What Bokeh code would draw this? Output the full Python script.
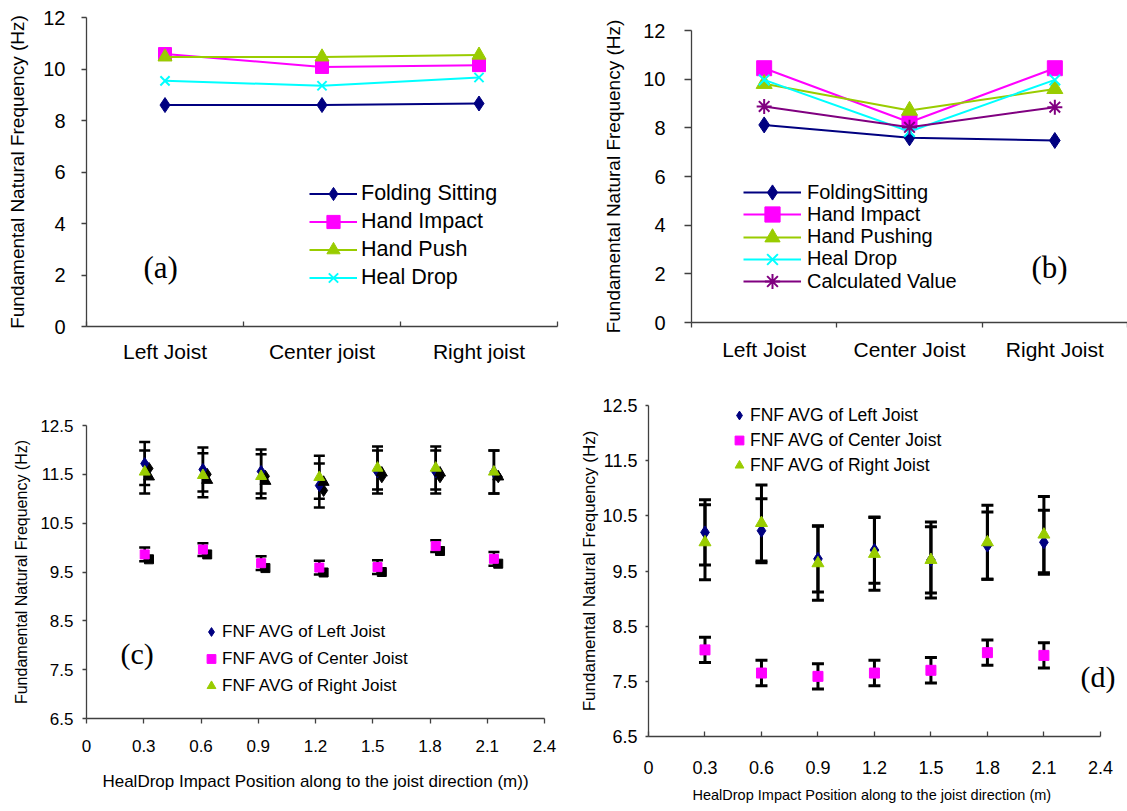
from bokeh.plotting import figure
from bokeh.models import (Range1d, FixedTicker, Label, Whisker, TeeHead, ColumnDataSource,
                          Legend, LegendItem, Title)
from bokeh.layouts import column, row
from bokeh.embed import file_html
from bokeh.resources import INLINE

SANS = "Liberation Sans"
SERIF = "Liberation Serif"

NAVY = "#000080"
MAGENTA = "#FF00FF"
YGREEN = "#99CC00"
CYAN = "#00FFFF"
PURPLE = "#800080"
AXIS = "#404040"

# ---------------- data ----------------
# (a)
cats_a = ["Left Joist", "Center joist", "Right joist"]
a_folding_sitting = [8.60, 8.60, 8.66]
a_hand_impact = [10.58, 10.08, 10.15]
a_hand_push = [10.47, 10.47, 10.54]
a_heal_drop = [9.54, 9.35, 9.67]

# (b)
cats_b = ["Left Joist", "Center Joist", "Right Joist"]
b_folding_sitting = [8.12, 7.59, 7.48]
b_hand_impact = [10.45, 8.23, 10.45]
b_hand_pushing = [9.81, 8.71, 9.60]
b_heal_drop = [9.97, 7.85, 9.97]
b_calculated = [8.88, 8.02, 8.85]

yticks_ab = [0, 2, 4, 6, 8, 10, 12]

# (c)
pos_c = [0.305, 0.61, 0.915, 1.22, 1.525, 1.83, 2.135]
c_left = [11.72, 11.60, 11.56, 11.27, 11.55, 11.55, 11.55]
c_left_err = [0.44, 0.45, 0.45, 0.45, 0.44, 0.44, 0.44]
c_center = [9.86, 9.96, 9.68, 9.59, 9.60, 10.03, 9.77]
c_center_err = [0.14, 0.13, 0.14, 0.14, 0.14, 0.12, 0.14]
c_right = [11.55, 11.48, 11.46, 11.44, 11.63, 11.63, 11.55]
c_right_err = [0.44, 0.45, 0.45, 0.44, 0.44, 0.44, 0.44]

# (d)
pos_d = [0.3, 0.6, 0.9, 1.2, 1.5, 1.8, 2.1]
d_left = [10.20, 10.23, 9.72, 9.88, 9.70, 9.96, 10.02]
d_left_err = [0.59, 0.58, 0.60, 0.60, 0.60, 0.61, 0.58]
d_center = [8.07, 7.65, 7.59, 7.65, 7.70, 8.02, 7.97]
d_center_err = [0.23, 0.23, 0.23, 0.23, 0.23, 0.23, 0.23]
d_right = [10.02, 10.37, 9.64, 9.81, 9.70, 10.02, 10.16]
d_right_err = [0.68, 0.69, 0.67, 0.66, 0.69, 0.67, 0.69]

xticks_cd = [0, 0.3, 0.6, 0.9, 1.2, 1.5, 1.8, 2.1, 2.4]
xtick_labels_cd = ["0", "0.3", "0.6", "0.9", "1.2", "1.5", "1.8", "2.1", "2.4"]
yticks_cd = [6.5, 7.5, 8.5, 9.5, 10.5, 11.5, 12.5]

legend_c = ["FNF AVG of Left Joist", "FNF AVG of Center Joist", "FNF AVG of Right Joist"]

YTITLE = "Fundamental Natural Frequency (Hz)"
XTITLE_C = "HealDrop Impact Position along to the joist direction (m))"
XTITLE_D = "HealDrop Impact Position  along to the joist direction (m)"


def make_fig(w, h, xr, yr, bl, br, bt, bb):
    p = figure(width=w, height=h, x_range=xr, y_range=yr, output_backend="svg",
               toolbar_location=None, min_border_left=bl, min_border_right=br,
               min_border_top=bt, min_border_bottom=bb)
    if "frame_align" in p.properties():
        p.frame_align = False
    p.outline_line_color = None
    p.xgrid.visible = False
    p.ygrid.visible = False
    p.background_fill_color = "white"
    p.border_fill_color = "white"
    for ax in (p.xaxis[0], p.yaxis[0]):
        ax.axis_line_color = AXIS
        ax.axis_line_width = 1.3
        ax.major_tick_line_color = AXIS
        ax.major_tick_line_width = 1.3
        ax.minor_tick_line_color = None
        ax.major_label_text_font = SANS
        ax.major_label_text_color = "black"
        ax.axis_label_text_font = SANS
        ax.axis_label_text_font_style = "normal"
        ax.axis_label_text_color = "black"
    return p


def legend_style(lg, font_size, gw, gh, spacing, standoff):
    lg.label_text_font = SANS
    lg.label_text_font_size = font_size
    lg.label_text_color = "black"
    lg.glyph_width = gw
    lg.glyph_height = gh
    lg.label_height = 16
    lg.spacing = spacing
    lg.label_standoff = standoff
    lg.padding = 0
    lg.margin = 0
    lg.border_line_color = None
    lg.background_fill_alpha = 0


def row_legends(p, entries, x, first_center, pitch, font_size, gw, gh, standoff):
    # one single-item legend per row so the row pitch can be smaller than the glyph box
    for i, (name, rends) in enumerate(entries):
        lg = Legend(items=[LegendItem(label=name, renderers=rends)],
                    location=(x, first_center - i * pitch - gh / 2))
        legend_style(lg, font_size, gw, gh, 0, standoff)
        p.add_layout(lg)


def category_axis(p, cats, tick_in, tick_out, font_size, standoff):
    ax = p.xaxis[0]
    ax.ticker = FixedTicker(ticks=[i + 0.5 for i in range(len(cats))],
                            minor_ticks=list(range(len(cats) + 1)))
    ax.major_label_overrides = {i + 0.5: c for i, c in enumerate(cats)}
    ax.major_tick_in = 0
    ax.major_tick_out = 0
    ax.minor_tick_line_color = AXIS
    ax.minor_tick_line_width = 1.3
    ax.minor_tick_in = tick_in
    ax.minor_tick_out = tick_out
    ax.major_label_text_font_size = font_size
    ax.major_label_standoff = standoff


# ---------------- (a) ----------------
pa = make_fig(565, 390, Range1d(0, len(cats_a)), Range1d(0, 12), 86, 8, 17, 64)
xa = [i + 0.5 for i in range(len(cats_a))]
series_a = [
    ("Folding Sitting", a_folding_sitting, NAVY, "diamond", 15),
    ("Hand Impact", a_hand_impact, MAGENTA, "square", 13),
    ("Hand Push", a_hand_push, YGREEN, "triangle", 14),
    ("Heal Drop", a_heal_drop, CYAN, "x", 13),
]
entries_a = []
for name, vals, col, mk, sz in series_a:
    lr = pa.line(xa, vals, line_color=col, line_width=2)
    sr = pa.scatter(xa, vals, marker=mk, size=sz, fill_color=col, line_color=col,
                    line_width=2 if mk == "x" else 1)
    entries_a.append((name, [lr, sr]))
category_axis(pa, cats_a, 5, 0, "21px", 13)
pa.yaxis.ticker = FixedTicker(ticks=yticks_ab)
pa.yaxis.major_label_text_font_size = "20px"
pa.yaxis.major_tick_in = 0
pa.yaxis.major_tick_out = 5
pa.yaxis.major_label_standoff = 16
pa.yaxis.axis_label = YTITLE
pa.yaxis.axis_label_text_font_size = "19px"
pa.yaxis.axis_label_standoff = 12
row_legends(pa, entries_a, 223, 133, 28, "21.5px", 48, 33, 4)
pa.add_layout(Label(x=57, y=59, x_units="screen", y_units="screen", text="(a)",
                    text_font=SERIF, text_font_size="31px", text_baseline="middle",
                    text_color="black"))

# ---------------- (b) ----------------
pb = make_fig(562, 390, Range1d(0, len(cats_b)), Range1d(0, 12), 126, 0, 30, 68)
xb = [i + 0.5 for i in range(len(cats_b))]
series_b = [
    ("FoldingSitting", b_folding_sitting, NAVY, "diamond", 16),
    ("Hand Impact", b_hand_impact, MAGENTA, "square", 15),
    ("Hand Pushing", b_hand_pushing, YGREEN, "triangle", 16),
    ("Heal Drop", b_heal_drop, CYAN, "x", 15),
    ("Calculated Value", b_calculated, PURPLE, "asterisk", 15),
]
entries_b = []
for name, vals, col, mk, sz in series_b:
    lr = pb.line(xb, vals, line_color=col, line_width=2)
    sr = pb.scatter(xb, vals, marker=mk, size=sz, fill_color=col, line_color=col,
                    line_width=2 if mk in ("x", "asterisk") else 1)
    entries_b.append((name, [lr, sr]))
category_axis(pb, cats_b, 0, 5, "21px", 10)
pb.yaxis.ticker = FixedTicker(ticks=yticks_ab)
pb.yaxis.major_label_text_font_size = "20px"
pb.yaxis.major_tick_in = 0
pb.yaxis.major_tick_out = 7
pb.yaxis.major_label_standoff = 19
pb.yaxis.axis_label = YTITLE
pb.yaxis.axis_label_text_font_size = "19px"
pb.yaxis.axis_label_standoff = 16
row_legends(pb, entries_b, 52, 130, 22.25, "20px", 58, 38, 6)
pb.add_layout(Label(x=340, y=55, x_units="screen", y_units="screen", text="(b)",
                    text_font=SERIF, text_font_size="31px", text_baseline="middle",
                    text_color="black"))


# ---------------- (c) & (d) helpers ----------------
def add_whisker(p, xs, vals, errs, lw, head):
    src = ColumnDataSource(dict(base=xs,
                                upper=[v + e for v, e in zip(vals, errs)],
                                lower=[v - e for v, e in zip(vals, errs)]))
    w = Whisker(source=src, base="base", upper="upper", lower="lower",
                line_color="black", line_width=lw, level="underlay",
                upper_head=TeeHead(size=head, line_width=lw, line_color="black"),
                lower_head=TeeHead(size=head, line_width=lw, line_color="black"))
    p.add_layout(w)


def numeric_axes(p, tick_in, tick_out, xstand, ystand, ytick_out, yfont, xfont,
                 ytitle_font, ytitle_stand):
    p.xaxis.ticker = FixedTicker(ticks=xticks_cd)
    p.xaxis.bounds = (xticks_cd[0], xticks_cd[-1])
    p.xaxis.major_label_overrides = dict(zip(xticks_cd, xtick_labels_cd))
    p.xaxis.major_tick_in = tick_in
    p.xaxis.major_tick_out = tick_out
    p.xaxis.major_label_standoff = xstand
    p.xaxis.major_label_text_font_size = xfont
    p.yaxis.ticker = FixedTicker(ticks=yticks_cd)
    p.yaxis.major_tick_in = 0
    p.yaxis.major_tick_out = ytick_out
    p.yaxis.major_label_standoff = ystand
    p.yaxis.major_label_text_font_size = yfont
    p.yaxis.axis_label = YTITLE
    p.yaxis.axis_label_text_font_size = ytitle_font
    p.yaxis.axis_label_standoff = ytitle_stand


# ---------------- (c) ----------------
pc = make_fig(565, 421, Range1d(0, 2.4), Range1d(6.5, 12.5), 86, 21, 35, 93)
SHADOW_DX = 0.0225
SHADOW_DY = 0.10
series_c = [
    (legend_c[0], c_left, c_left_err, NAVY, "diamond", 12),
    (legend_c[1], c_center, c_center_err, MAGENTA, "square", 9),
    (legend_c[2], c_right, c_right_err, YGREEN, "triangle", 11),
]
for name, vals, errs, col, mk, sz in series_c:
    add_whisker(pc, pos_c, vals, errs, 2.5, 11)
for name, vals, errs, col, mk, sz in series_c:
    pc.scatter([x + SHADOW_DX for x in pos_c], [v - SHADOW_DY for v in vals],
               marker=mk, size=sz, fill_color="black", line_color="black")
    pc.scatter(pos_c, vals, marker=mk, size=sz, fill_color=col, line_color=col,
               legend_label=name)
numeric_axes(pc, 0, 5, 16, 9, 4, "17px", "17px", "16px", 7)
pc.xaxis.axis_label = XTITLE_C
pc.xaxis.axis_label_text_font_size = "17px"
pc.xaxis.axis_label_standoff = 17
lgc = pc.legend[0]
lgc.location = (114, 20)
legend_style(lgc, "17px", 22, 25, 2, 0)
pc.add_layout(Label(x=34, y=65, x_units="screen", y_units="screen", text="(c)",
                    text_font=SERIF, text_font_size="30px", text_baseline="middle",
                    text_color="black"))

# ---------------- (d) ----------------
# frame runs to the right edge so "(d)" is not clipped; the axis itself stops at 2.4
pd_ = make_fig(562, 421, Range1d(0, 2.544), Range1d(6.5, 12.5), 83, 0, 15, 75)
series_d = [
    (legend_c[0], d_left, d_left_err, NAVY, "diamond", 13),
    (legend_c[1], d_center, d_center_err, MAGENTA, "square", 10),
    (legend_c[2], d_right, d_right_err, YGREEN, "triangle", 12),
]
for name, vals, errs, col, mk, sz in series_d:
    add_whisker(pd_, pos_d, vals, errs, 3, 12)
for name, vals, errs, col, mk, sz in series_d:
    pd_.scatter(pos_d, vals, marker=mk, size=sz, fill_color=col, line_color=col,
                legend_label=name)
numeric_axes(pd_, 5, 0, 24, 8, 3, "18px", "18px", "17px", 0)
# x title placed as a below-title so it can be centred under the axis (not the wider frame)
pd_.add_layout(Title(text=XTITLE_D, align="left", offset=44, standoff=16,
                     text_font=SANS, text_font_size="14.5px", text_font_style="normal",
                     text_color="black"), "below")
lgd = pd_.legend[0]
lgd.location = (80, 259)
legend_style(lgd, "17.5px", 22, 24, 1, 0)
pd_.add_layout(Label(x=432, y=60, x_units="screen", y_units="screen", text="(d)",
                     text_font=SERIF, text_font_size="30px", text_baseline="middle",
                     text_color="black"))

layout = column(row(pa, pb), row(pc, pd_))
open("out.html", "w").write(file_html(layout, INLINE))
